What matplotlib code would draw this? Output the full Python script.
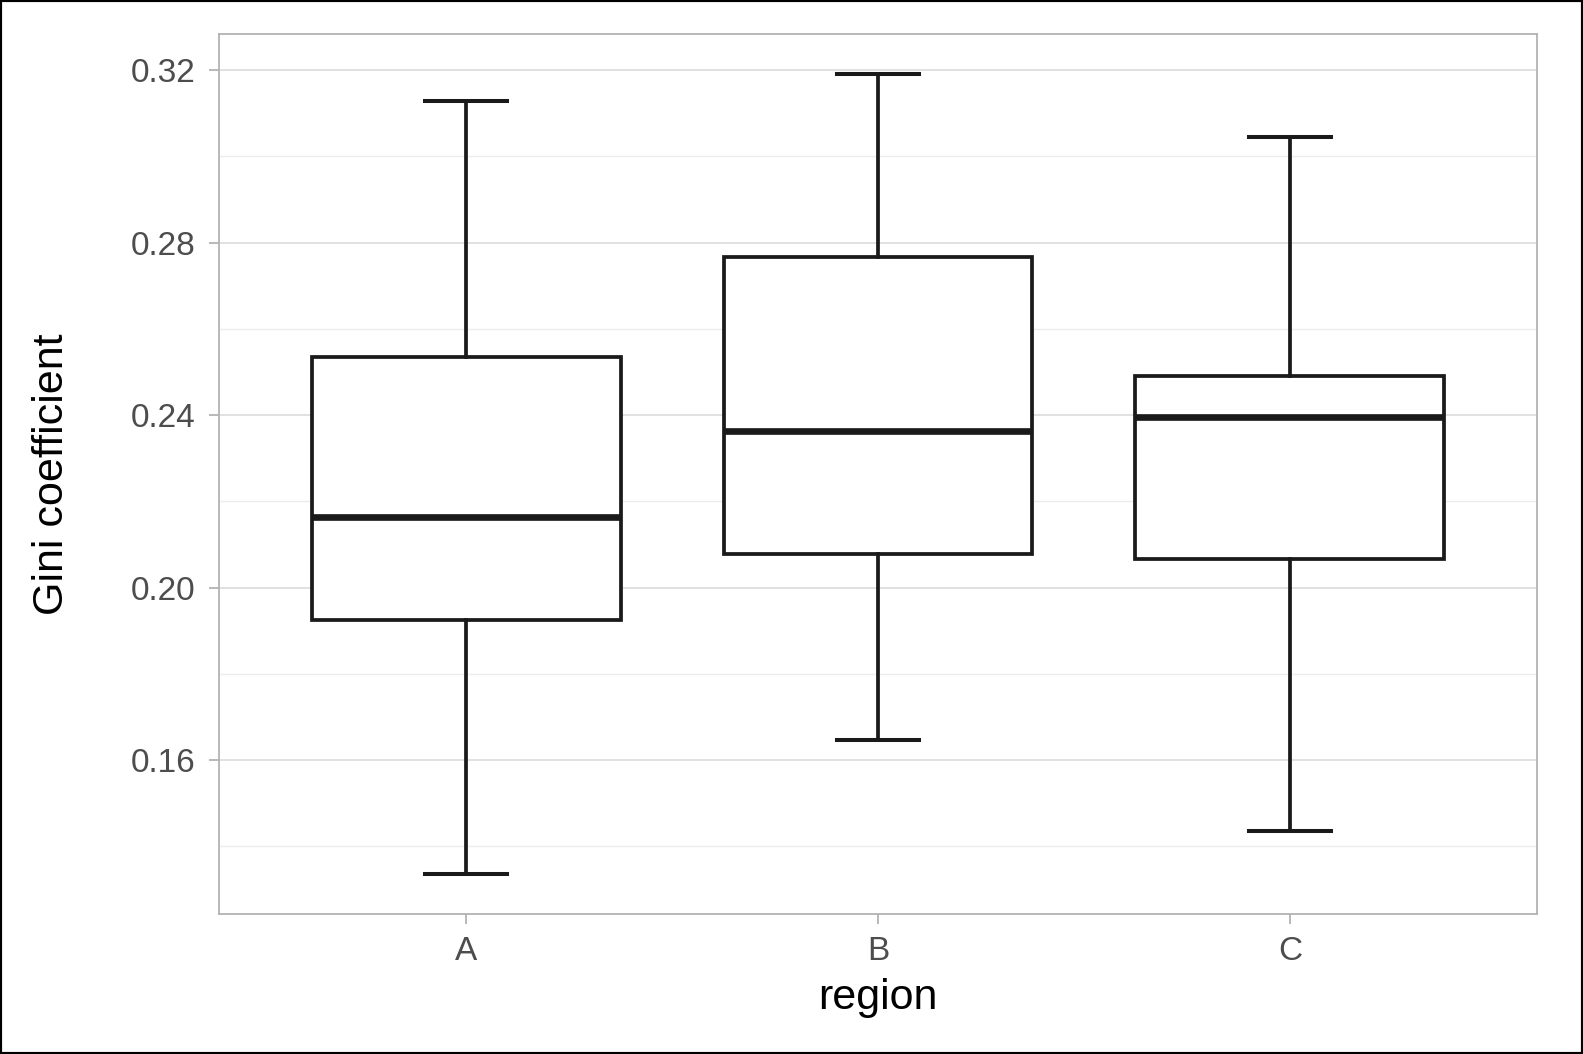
import matplotlib.pyplot as plt
from matplotlib.patches import Rectangle

plt.rcParams['font.family'] = ['Liberation Sans', 'DejaVu Sans']

# box statistics
regions = ['A', 'B', 'C']
whisker_low = [0.1336, 0.1647, 0.1436]
q1 = [0.1925, 0.2079, 0.2067]
median = [0.2163, 0.2364, 0.2396]
q3 = [0.2534, 0.2768, 0.2492]
whisker_high = [0.3128, 0.3191, 0.3046]

fig = plt.figure(figsize=(15.83, 10.54), dpi=100)
ax = fig.add_axes([0.1383, 0.1328, 0.8327, 0.8349])

stats = []
for i, r in enumerate(regions):
    stats.append(dict(label=r, whislo=whisker_low[i], q1=q1[i], med=median[i],
                      q3=q3[i], whishi=whisker_high[i], fliers=[]))

ax.bxp(stats, positions=[1, 2, 3], widths=0.75, showfliers=False,
       patch_artist=True,
       boxprops=dict(facecolor='white', edgecolor='#1a1a1a', linewidth=2.7),
       medianprops=dict(color='#1a1a1a', linewidth=4.8, solid_capstyle='butt'),
       whiskerprops=dict(color='#1a1a1a', linewidth=2.7),
       capprops=dict(color='#1a1a1a', linewidth=2.9),
       capwidths=0.2, zorder=3)

ax.set_xlim(0.4, 3.6)
ax.set_ylim(0.1243, 0.3284)
ax.set_yticks([0.16, 0.20, 0.24, 0.28, 0.32])
ax.set_yticklabels(['0.16', '0.20', '0.24', '0.28', '0.32'])
ax.set_yticks([0.14, 0.18, 0.22, 0.26, 0.30], minor=True)
ax.grid(axis='y', which='major', color='#dedede', linewidth=1.3, zorder=0)
ax.grid(axis='y', which='minor', color='#ececec', linewidth=1.0, zorder=0)
ax.set_axisbelow(True)

for s in ax.spines.values():
    s.set_color('#b3b3b3')
    s.set_linewidth(1.3)

ax.tick_params(axis='both', which='major', colors='#b3b3b3', length=7, width=1.3,
               labelsize=24, labelcolor='#4d4d4d')
ax.tick_params(axis='x', pad=9)
ax.tick_params(axis='y', pad=10)
ax.tick_params(axis='y', which='minor', length=0)

ax.set_xlabel('region', fontsize=31, color='black', labelpad=8)
ax.set_ylabel('Gini coefficient', fontsize=31, color='black', labelpad=42)

# black frame round the figure
fig.patches.append(Rectangle((0, 0), 1, 1, transform=fig.transFigure,
                             fill=False, edgecolor='black', linewidth=3))

fig.savefig('out.png', dpi=100)
